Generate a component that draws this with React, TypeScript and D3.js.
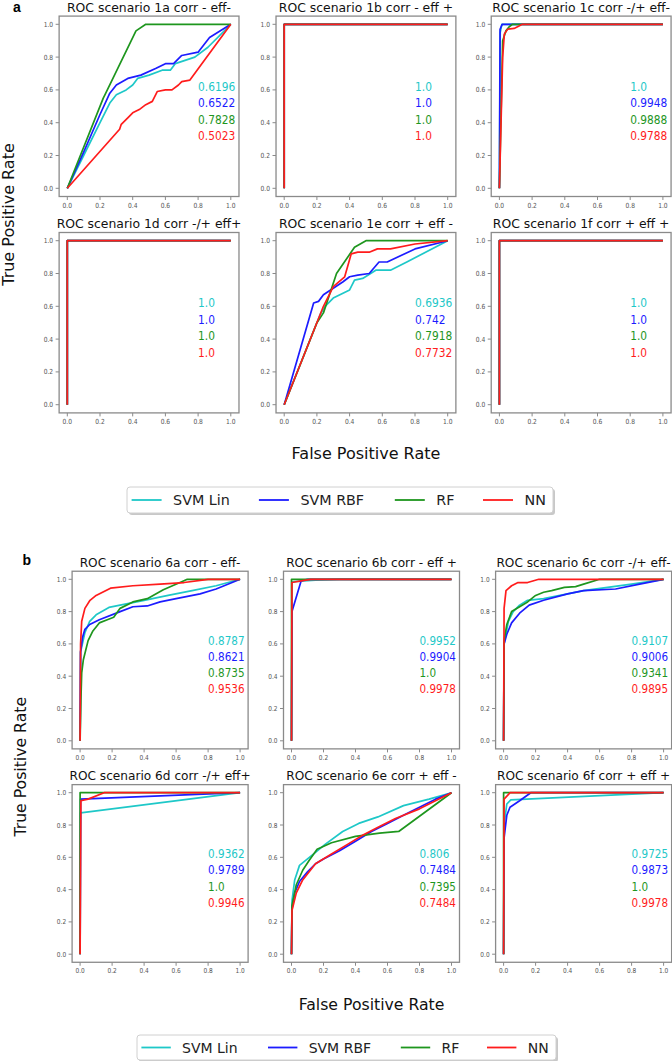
import React from 'react';
import * as d3 from 'd3';

type Pt = [number, number];

const MODELS = ['SVM Lin', 'SVM RBF', 'RF', 'NN'];
const COLORS = ['#1ec8c8', '#1c1cff', '#1e961e', '#ff1c1c'];
const TICKS = [0, 0.2, 0.4, 0.6, 0.8, 1.0];

const TITLES_A = [
  'ROC scenario 1a corr - eff-',
  'ROC scenario 1b corr - eff +',
  'ROC scenario 1c corr -/+ eff-',
  'ROC scenario 1d corr -/+ eff+',
  'ROC scenario 1e corr + eff -',
  'ROC scenario 1f corr + eff +',
];
const TITLES_B = [
  'ROC scenario 6a corr - eff-',
  'ROC scenario 6b corr - eff +',
  'ROC scenario 6c corr -/+ eff-',
  'ROC scenario 6d corr -/+ eff+',
  'ROC scenario 6e corr + eff -',
  'ROC scenario 6f corr + eff +',
];

const AUC_A = [
  ['0.6196', '0.6522', '0.7828', '0.5023'],
  ['1.0', '1.0', '1.0', '1.0'],
  ['1.0', '0.9948', '0.9888', '0.9788'],
  ['1.0', '1.0', '1.0', '1.0'],
  ['0.6936', '0.742', '0.7918', '0.7732'],
  ['1.0', '1.0', '1.0', '1.0'],
];
const AUC_B = [
  ['0.8787', '0.8621', '0.8735', '0.9536'],
  ['0.9952', '0.9904', '1.0', '0.9978'],
  ['0.9107', '0.9006', '0.9341', '0.9895'],
  ['0.9362', '0.9789', '1.0', '0.9946'],
  ['0.806', '0.7484', '0.7395', '0.7484'],
  ['0.9725', '0.9873', '1.0', '0.9978'],
];

const PERFECT: Pt[] = [[0, 0], [0, 1], [1, 1]];

// order of curves in each scenario: SVM Lin, SVM RBF, RF, NN
const ROC_1A: Pt[][] = [
  [[0, 0], [0.1, 0.2], [0.2, 0.4], [0.26, 0.52], [0.3, 0.57], [0.36, 0.6], [0.4, 0.63], [0.43, 0.67], [0.5, 0.69], [0.58, 0.72], [0.63, 0.72], [0.66, 0.76], [0.72, 0.78], [0.78, 0.8], [0.86, 0.86], [1, 1]],
  [[0, 0], [0.1, 0.22], [0.2, 0.45], [0.26, 0.58], [0.3, 0.63], [0.37, 0.67], [0.45, 0.69], [0.54, 0.73], [0.6, 0.76], [0.65, 0.76], [0.7, 0.81], [0.8, 0.83], [0.87, 0.92], [1, 1]],
  [[0, 0], [0.22, 0.55], [0.23, 0.57], [0.42, 0.96], [0.48, 1], [1, 1]],
  [[0, 0], [0.32, 0.36], [0.33, 0.39], [0.37, 0.43], [0.4, 0.46], [0.44, 0.48], [0.48, 0.51], [0.52, 0.53], [0.55, 0.59], [0.6, 0.6], [0.64, 0.6], [0.68, 0.63], [0.7, 0.65], [0.75, 0.66], [1, 1]],
];
const ROC_1B: Pt[][] = [PERFECT, PERFECT, PERFECT, PERFECT];
const ROC_1C: Pt[][] = [
  [[0, 0], [0.005, 0.95], [0.015, 1], [1, 1]],
  [[0, 0], [0.004, 0.97], [0.017, 1], [1, 1]],
  [[0, 0], [0.02, 0.9], [0.04, 0.96], [0.06, 0.985], [0.08, 1], [1, 1]],
  [[0, 0], [0.02, 0.8], [0.03, 0.94], [0.05, 0.97], [0.09, 0.975], [0.12, 0.99], [0.14, 1], [1, 1]],
];
const ROC_1D: Pt[][] = [PERFECT, PERFECT, PERFECT, PERFECT];
const ROC_1E: Pt[][] = [
  [[0, 0], [0.22, 0.55], [0.25, 0.6], [0.3, 0.65], [0.4, 0.7], [0.43, 0.76], [0.48, 0.77], [0.56, 0.82], [0.65, 0.82], [0.75, 0.87], [1, 1]],
  [[0, 0], [0.18, 0.62], [0.21, 0.63], [0.24, 0.67], [0.3, 0.71], [0.36, 0.75], [0.4, 0.78], [0.45, 0.79], [0.52, 0.8], [0.58, 0.87], [0.63, 0.87], [0.8, 0.95], [1, 1]],
  [[0, 0], [0.2, 0.5], [0.24, 0.56], [0.32, 0.8], [0.43, 0.96], [0.5, 1], [1, 1]],
  [[0, 0], [0.24, 0.6], [0.3, 0.72], [0.37, 0.78], [0.41, 0.92], [0.45, 0.93], [0.52, 0.93], [0.57, 0.95], [0.65, 0.95], [0.8, 0.98], [1, 1]],
];
const ROC_1F: Pt[][] = [PERFECT, PERFECT, PERFECT, PERFECT];

const ROC_6A: Pt[][] = [
  [[0, 0], [0.003, 0.55], [0.03, 0.67], [0.06, 0.74], [0.1, 0.78], [0.18, 0.826], [0.25, 0.84], [0.4, 0.87], [0.55, 0.9], [0.7, 0.93], [0.85, 0.96], [1, 1]],
  [[0, 0], [0.003, 0.55], [0.015, 0.64], [0.03, 0.69], [0.06, 0.72], [0.12, 0.75], [0.25, 0.8], [0.33, 0.83], [0.42, 0.835], [0.5, 0.86], [0.6, 0.88], [0.75, 0.91], [0.85, 0.94], [1, 1]],
  [[0, 0], [0.005, 0.25], [0.01, 0.42], [0.02, 0.5], [0.05, 0.62], [0.08, 0.68], [0.12, 0.73], [0.17, 0.75], [0.21, 0.765], [0.25, 0.82], [0.33, 0.86], [0.42, 0.88], [0.52, 0.935], [0.635, 0.985], [0.67, 1], [1, 1]],
  [[0, 0], [0.003, 0.6], [0.01, 0.74], [0.03, 0.82], [0.062, 0.87], [0.1, 0.9], [0.19, 0.945], [0.33, 0.96], [0.5, 0.97], [0.65, 0.98], [0.8, 1], [1, 1]],
];
const ROC_6B: Pt[][] = [
  [[0, 0], [0.003, 0.985], [0.15, 0.995], [0.3, 1], [1, 1]],
  [[0, 0], [0.003, 0.8], [0.06, 0.99], [0.1, 1], [1, 1]],
  PERFECT,
  [[0, 0], [0.003, 0.98], [0.06, 0.99], [0.12, 1], [1, 1]],
];
const ROC_6C: Pt[][] = [
  [[0, 0], [0.003, 0.6], [0.03, 0.74], [0.06, 0.8], [0.1, 0.84], [0.15, 0.87], [0.25, 0.88], [0.4, 0.91], [0.5, 0.93], [0.65, 0.95], [0.8, 0.97], [1, 1]],
  [[0, 0], [0.003, 0.6], [0.02, 0.66], [0.05, 0.73], [0.1, 0.79], [0.16, 0.84], [0.25, 0.87], [0.4, 0.91], [0.5, 0.93], [0.7, 0.94], [0.85, 0.97], [1, 1]],
  [[0, 0], [0.003, 0.62], [0.02, 0.72], [0.05, 0.8], [0.1, 0.83], [0.15, 0.86], [0.2, 0.9], [0.25, 0.92], [0.3, 0.93], [0.38, 0.95], [0.45, 0.955], [0.5, 0.97], [0.6, 1], [1, 1]],
  [[0, 0], [0.003, 0.82], [0.015, 0.93], [0.05, 0.96], [0.09, 0.98], [0.15, 0.98], [0.22, 1], [1, 1]],
];
const ROC_6D: Pt[][] = [
  [[0, 0], [0.003, 0.875], [1, 1]],
  [[0, 0], [0.003, 0.96], [1, 1]],
  PERFECT,
  [[0, 0], [0.005, 0.95], [0.05, 0.96], [0.15, 1], [1, 1]],
];
const ROC_6E: Pt[][] = [
  [[0, 0], [0.003, 0.33], [0.02, 0.46], [0.05, 0.55], [0.1, 0.59], [0.15, 0.63], [0.21, 0.68], [0.32, 0.76], [0.42, 0.81], [0.54, 0.85], [0.7, 0.92], [0.86, 0.96], [1, 1]],
  [[0, 0], [0.003, 0.28], [0.02, 0.38], [0.05, 0.45], [0.1, 0.51], [0.15, 0.56], [0.2, 0.59], [0.3, 0.64], [0.4, 0.7], [0.5, 0.76], [0.6, 0.81], [0.7, 0.86], [0.8, 0.91], [0.9, 0.96], [1, 1]],
  [[0, 0], [0.003, 0.3], [0.03, 0.43], [0.07, 0.52], [0.11, 0.58], [0.16, 0.65], [0.25, 0.69], [0.4, 0.73], [0.55, 0.75], [0.67, 0.76], [1, 1]],
  [[0, 0], [0.003, 0.27], [0.03, 0.38], [0.07, 0.46], [0.15, 0.56], [0.25, 0.62], [0.35, 0.68], [0.45, 0.74], [0.55, 0.79], [0.65, 0.84], [0.8, 0.9], [1, 1]],
];
const ROC_6F: Pt[][] = [
  [[0, 0], [0.003, 0.8], [0.02, 0.93], [0.045, 0.955], [1, 1]],
  [[0, 0], [0.003, 0.72], [0.02, 0.86], [0.04, 0.91], [0.1, 0.95], [0.17, 1], [1, 1]],
  PERFECT,
  [[0, 0], [0.003, 0.96], [0.04, 1], [1, 1]],
];

const CURVES_A = [ROC_1A, ROC_1B, ROC_1C, ROC_1D, ROC_1E, ROC_1F];
const CURVES_B = [ROC_6A, ROC_6B, ROC_6C, ROC_6D, ROC_6E, ROC_6F];

const FONT = '"DejaVu Sans", sans-serif';

interface Layout {
  label: string; labelX: number; labelY: number;
  x0: number[]; y1: number[]; ux: number; uy: number; fs: number;
  yLabelX: number; xLabelY: number;
  legend: { x: number; y: number; w: number; h: number; items: number[] };
}

const LAYOUT_A: Layout = {
  label: 'a', labelX: 13, labelY: 11.5,
  x0: [67.3, 284.2, 499.4], y1: [24.3, 240.7], ux: 163.5, uy: 164, fs: 1,
  yLabelX: 14, xLabelY: 459,
  legend: { x: 127, y: 487, w: 426, h: 26, items: [131.6, 258.9, 394.8, 483] },
};
const LAYOUT_B: Layout = {
  label: 'b', labelX: 22.5, labelY: 565,
  x0: [80.1, 291.5, 503.6], y1: [579.3, 792.7], ux: 160, uy: 161.5, fs: 0.98,
  yLabelX: 25.5, xLabelY: 1010,
  legend: { x: 137, y: 1035, w: 419, h: 25, items: [141.4, 268, 400.8, 487] },
};

function Panel({ x0, y1, ux, uy, fs, title, curves, aucs }: {
  x0: number; y1: number; ux: number; uy: number; fs: number;
  title: string; curves: Pt[][]; aucs: string[];
}) {
  const x = d3.scaleLinear().domain([0, 1]).range([x0, x0 + ux]);
  const y = d3.scaleLinear().domain([0, 1]).range([y1 + uy, y1]);
  const line = d3.line<Pt>().x(d => x(d[0])).y(d => y(d[1]));
  const L = x(-0.05), R = x(1.05), T = y(1.05), B = y(-0.05);
  return (
    <g>
      <text x={(L + R) / 2} y={T - 4.5} textAnchor="middle" fontSize={12.4 * fs} fill="#111">{title}</text>
      {curves.map((c, i) => (
        <path key={i} d={line(c) || ''} stroke={COLORS[i]} fill="none" strokeWidth={1.7} strokeLinejoin="round" />
      ))}
      <rect x={L} y={T} width={R - L} height={B - T} fill="none" stroke="#8a8a8a" strokeWidth={1.3} />
      {TICKS.map(t => (
        <g key={'x' + t}>
          <line x1={x(t)} x2={x(t)} y1={B} y2={B + 3.5} stroke="#8a8a8a" strokeWidth={1} />
          <text transform={`translate(${x(t)},${B + 11}) scale(0.85,1)`} textAnchor="middle" fontSize={7 * fs} fill="#555">{d3.format('.1f')(t)}</text>
        </g>
      ))}
      {TICKS.map(t => (
        <g key={'y' + t}>
          <line x1={L - 3.5} x2={L} y1={y(t)} y2={y(t)} stroke="#8a8a8a" strokeWidth={1} />
          <text transform={`translate(${L - 6},${y(t) + 2.5}) scale(0.85,1)`} textAnchor="end" fontSize={7 * fs} fill="#555">{d3.format('.1f')(t)}</text>
        </g>
      ))}
      {aucs.map((a, i) => (
        <text key={'a' + i} transform={`translate(${x(0.8)},${y(0.6 - 0.1 * i) + 1}) scale(0.85,1)`} fontSize={12.5 * fs} fill={COLORS[i]}>{a}</text>
      ))}
    </g>
  );
}

function Section({ lay, titles, curves, aucs }: { lay: Layout; titles: string[]; curves: Pt[][][]; aucs: string[][] }) {
  const midY = (lay.y1[0] - 0.05 * lay.uy + lay.y1[1] + 1.05 * lay.uy) / 2;
  const midX = lay.x0[1] + 0.5 * lay.ux;
  const lg = lay.legend;
  return (
    <g>
      <text x={lay.labelX} y={lay.labelY} fontSize={14} fontWeight="bold" fontFamily='"Liberation Sans", Arial, sans-serif'>{lay.label}</text>
      {titles.map((t, i) => (
        <Panel key={i} x0={lay.x0[i % 3]} y1={lay.y1[Math.floor(i / 3)]} ux={lay.ux} uy={lay.uy} fs={lay.fs}
          title={t} curves={curves[i]} aucs={aucs[i]} />
      ))}
      <text transform={`translate(${lay.yLabelX},${midY}) rotate(-90)`} textAnchor="middle" fontSize={16 * lay.fs} fill="#111">True Positive Rate</text>
      <text x={midX} y={lay.xLabelY} textAnchor="middle" fontSize={16 * lay.fs} fill="#111">False Positive Rate</text>
      <rect x={lg.x + 2} y={lg.y + 2} width={lg.w} height={lg.h} rx={3} fill="#b0b0b0" opacity={0.7} />
      <rect x={lg.x} y={lg.y} width={lg.w} height={lg.h} rx={3} fill="#fff" stroke="#d0d0d0" strokeWidth={1} />
      {MODELS.map((m, i) => (
        <g key={m}>
          <line x1={lg.items[i]} x2={lg.items[i] + 30 * lay.fs} y1={lg.y + lg.h / 2} y2={lg.y + lg.h / 2} stroke={COLORS[i]} strokeWidth={1.8} />
          <text x={lg.items[i] + 41.5 * lay.fs} y={lg.y + lg.h / 2 + 5} fontSize={14.3 * lay.fs} fill="#222">{m}</text>
        </g>
      ))}
    </g>
  );
}

export default function App() {
  return (
    <svg width={672} height={1061} style={{ position: 'absolute', left: 0, top: 0, background: '#fff' }} fontFamily={FONT}>
      <rect x={0} y={0} width={672} height={1061} fill="#fff" />
      <Section lay={LAYOUT_A} titles={TITLES_A} curves={CURVES_A} aucs={AUC_A} />
      <Section lay={LAYOUT_B} titles={TITLES_B} curves={CURVES_B} aucs={AUC_B} />
    </svg>
  );
}
